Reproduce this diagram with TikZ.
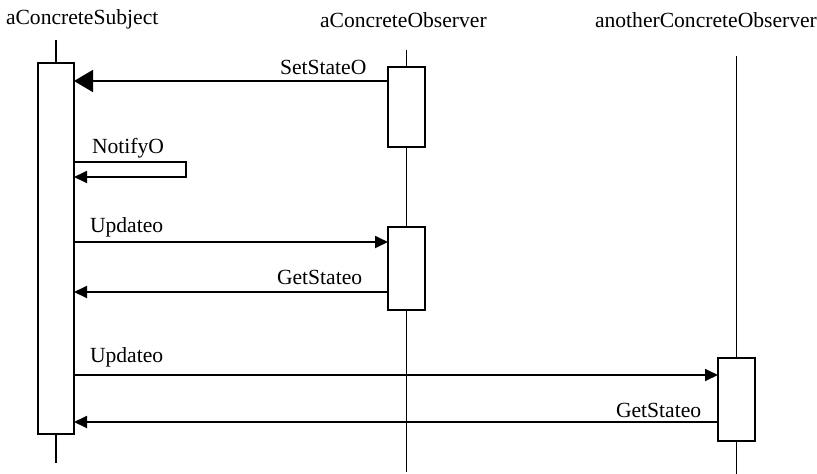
\documentclass[tikz,border=0pt]{standalone}
\usepackage{fontspec}
\setmainfont{Liberation Serif}
\usetikzlibrary{arrows.meta}
\begin{document}
\begin{tikzpicture}[x=1pt,y=-1pt,
  every node/.style={font=\fontsize{21.6pt}{26pt}\selectfont, inner sep=0pt, outer sep=0pt},
  lifeline/.style={line width=1.6pt},
  actbox/.style={draw, line width=2pt, fill=white, rectangle, anchor=north west},
  msg/.style={line width=1.8pt, -{Triangle[length=13pt,width=12pt]}},
  syncmsg/.style={line width=1.8pt, -{Triangle[length=19pt,width=22pt]}},
  lbl/.style={anchor=base west}]
\useasboundingbox (0,0) rectangle (817,474);
% object names
\node[lbl] (nS) at (6,24) {aConcreteSubject};
\node[lbl] (nO) at (320,27) {aConcreteObserver};
\node[lbl] (nA) at (595,27) {anotherConcreteObserver};
% activation boxes
\node[actbox, minimum width=36pt, minimum height=371pt] (sb) at (38,63) {};
\node[actbox, minimum width=37pt, minimum height=80pt] (ob1) at (388,67) {};
\node[actbox, minimum width=37pt, minimum height=83pt] (ob2) at (388,227) {};
\node[actbox, minimum width=37pt, minimum height=83pt] (ab) at (718,358) {};
% lifelines
\draw[lifeline] (sb.north |- 0,40) -- (sb.north);
\draw[lifeline] (sb.south) -- (sb.south |- 0,463);
\draw[lifeline] (ob1.north |- 0,50) -- (ob1.north);
\draw[lifeline] (ob1.south) -- (ob2.north);
\draw[lifeline] (ob2.south) -- (ob2.south |- 0,472);
\draw[lifeline] (ab.north |- 0,56) -- (ab.north);
\draw[lifeline] (ab.south) -- (ab.south |- 0,474);
% messages
\draw[syncmsg] (ob1.west |- 0,81) -- (sb.east |- 0,81);
\node[lbl] (l1) at (280,74) {SetStateO};
\draw[msg] (sb.east |- 0,162) -| (186,177) -- (sb.east |- 0,177);
\node[lbl] (l2) at (92,153) {NotifyO};
\draw[msg] (sb.east |- 0,242) -- (ob2.west |- 0,242);
\node[lbl] (l3) at (90,232) {Updateo};
\draw[msg] (ob2.west |- 0,292) -- (sb.east |- 0,292);
\node[lbl] (l4) at (277,284) {GetStateo};
\draw[msg] (sb.east |- 0,375) -- (ab.west |- 0,375);
\node[lbl] (l5) at (90,362) {Updateo};
\draw[msg] (ab.west |- 0,422) -- (sb.east |- 0,422);
\node[lbl] (l6) at (616,417) {GetStateo};
\end{tikzpicture}
\end{document}
